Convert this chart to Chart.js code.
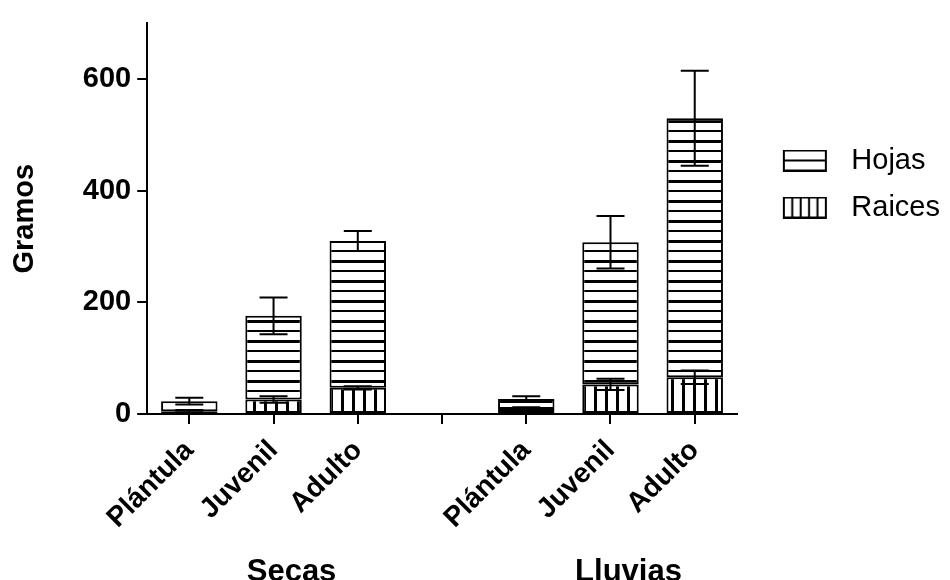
<!DOCTYPE html>
<html>
<head>
<meta charset="utf-8">
<title>Gramos por etapa</title>
<script src="https://cdn.jsdelivr.net/npm/chart.js@4.4.1/dist/chart.umd.min.js"></script>
<style>
  html, body { margin: 0; padding: 0; background: #fff; }
  #wrap { width: 950px; height: 580px; }
</style>
</head>
<body>
<div id="wrap"><canvas id="biomasa"></canvas></div>
<script>
// categories (index 3 is the blank slot between seasons)
var etapas = ['Plántula', 'Juvenil', 'Adulto', '', 'Plántula', 'Juvenil', 'Adulto'];
var temporadas = ['', 'Secas', '', '', '', 'Lluvias', ''];

// mean grams per segment and their error
var raices = [5, 26, 47, null, 9, 53, 66];
var raicesErr = [2, 6, 3, null, 3, 10, 12];
var hojas = [18, 150, 263, null, 18, 255, 464];
var hojasErr = [6, 33, 18, null, 5, 47, 85];

var yTicks = [0, 200, 400, 600];

var FONT = '"Liberation Sans", Arial, sans-serif';
Chart.defaults.font.family = FONT;
Chart.defaults.color = '#000';

// hatch fills
function rayasHoriz() {
    var c = document.createElement('canvas');
    c.width = 4; c.height = 20;
    var g = c.getContext('2d');
    g.fillStyle = '#fff'; g.fillRect(0, 0, 4, 20);
    g.fillStyle = '#000';
    g.fillRect(0, 0, 4, 3);
    g.fillRect(0, 10, 4, 2);
    return g.createPattern(c, 'repeat');
}
function rayasVert() {
    var c = document.createElement('canvas');
    c.width = 11; c.height = 4;
    var g = c.getContext('2d');
    g.fillStyle = '#fff'; g.fillRect(0, 0, 11, 4);
    g.fillStyle = '#000';
    g.fillRect(0, 0, 3, 4);
    return g.createPattern(c, 'repeat');
}

// little legend swatches, drawn as point styles
function muestra(tipo) {
    var c = document.createElement('canvas');
    c.width = 82; c.height = 22;
    var g = c.getContext('2d');
    g.fillStyle = '#fff'; g.fillRect(29, 1, 42, 20);
    g.strokeStyle = '#000'; g.lineWidth = 2;
    g.strokeRect(29, 1, 42, 20);
    g.beginPath();
    if (tipo === 'h') {
        g.moveTo(29, 11); g.lineTo(71, 11);
    } else {
        for (var k = 1; k < 5; k++) { g.moveTo(29 + 8.4 * k, 1); g.lineTo(29 + 8.4 * k, 21); }
    }
    g.stroke();
    return c;
}

var errorBars = {
    id: 'errorBars',
    afterDatasetsDraw: function (chart) {
        var ctx = chart.ctx;
        var ys = chart.scales.y;
        var sets = chart.data.datasets;
        ctx.save();
        ctx.strokeStyle = '#000';
        ctx.lineWidth = 2;
        sets.forEach(function (ds, i) {
            var meta = chart.getDatasetMeta(i);
            meta.data.forEach(function (bar, j) {
                if (ds.data[j] == null) return;
                var total = 0;
                for (var k = 0; k <= i; k++) total += sets[k].data[j];
                var top = ys.getPixelForValue(total + ds.errors[j]);
                var bot = ys.getPixelForValue(total - ds.errors[j]);
                ctx.beginPath();
                ctx.moveTo(bar.x, top); ctx.lineTo(bar.x, bot);
                ctx.moveTo(bar.x - 14, top); ctx.lineTo(bar.x + 14, top);
                ctx.moveTo(bar.x - 14, bot); ctx.lineTo(bar.x + 14, bot);
                ctx.stroke();
            });
        });
        ctx.restore();
    }
};

var ctx = document.getElementById('biomasa').getContext('2d');
var chart = new Chart(ctx, {
    type: 'bar',
    data: {
        labels: etapas,
        datasets: [{
            label: 'Raices',
            data: raices,
            errors: raicesErr,
            backgroundColor: rayasVert(),
            borderColor: '#000',
            borderWidth: 2,
            borderSkipped: false
        }, {
            label: 'Hojas',
            data: hojas,
            errors: hojasErr,
            backgroundColor: rayasHoriz(),
            borderColor: '#000',
            borderWidth: 2,
            borderSkipped: false
        }]
    },
    options: {
        responsive: true,
        maintainAspectRatio: false,
        animation: false,
        barPercentage: 0.67,
        categoryPercentage: 1,
        layout: { padding: { top: 20, right: 0, bottom: -20, left: 0 } },
        plugins: {
            tooltip: { enabled: false },
            legend: {
                position: 'right',
                align: 'start',
                title: { display: true, text: '', font: { size: 10 }, padding: { top: 96, bottom: 0 } },
                labels: {
                    usePointStyle: true,
                    pointStyleWidth: 82,
                    padding: 18,
                    color: '#000',
                    font: { size: 29 },
                    generateLabels: function () {
                        return [
                            { text: 'Hojas', pointStyle: muestra('h'), datasetIndex: 1, lineWidth: 0, fontColor: '#000' },
                            { text: 'Raices', pointStyle: muestra('r'), datasetIndex: 0, lineWidth: 0, fontColor: '#000' }
                        ];
                    }
                }
            }
        },
        scales: {
            x: {
                stacked: true,
                offset: true,
                grid: { display: true, offset: false, drawOnChartArea: false, drawTicks: true, tickLength: 10, color: '#000', lineWidth: 2 },
                border: { display: true, color: '#000', width: 2 },
                ticks: { autoSkip: false, maxRotation: 45, minRotation: 45, padding: 10, font: { size: 28, weight: 'bold' } }
            },
            x2: {
                type: 'category',
                labels: temporadas,
                position: 'bottom',
                offset: true,
                grid: { display: false, drawTicks: false },
                border: { display: false },
                ticks: { autoSkip: false, maxRotation: 0, minRotation: 0, labelOffset: 18, padding: 9, font: { size: 31, weight: 'bold' } }
            },
            y: {
                stacked: true,
                min: 0,
                max: 700,
                afterBuildTicks: function (scale) {
                    scale.ticks = yTicks.map(function (v) { return { value: v }; });
                },
                grid: { display: true, drawOnChartArea: false, drawTicks: true, tickLength: 10, color: '#000', lineWidth: 2 },
                border: { display: true, color: '#000', width: 2 },
                ticks: { padding: 6, font: { size: 29, weight: 'bold' } },
                title: { display: true, text: 'Gramos', font: { size: 29, weight: 'bold' }, padding: { top: 8, bottom: 34 } }
            }
        }
    },
    plugins: [errorBars]
});
</script>
</body>
</html>
